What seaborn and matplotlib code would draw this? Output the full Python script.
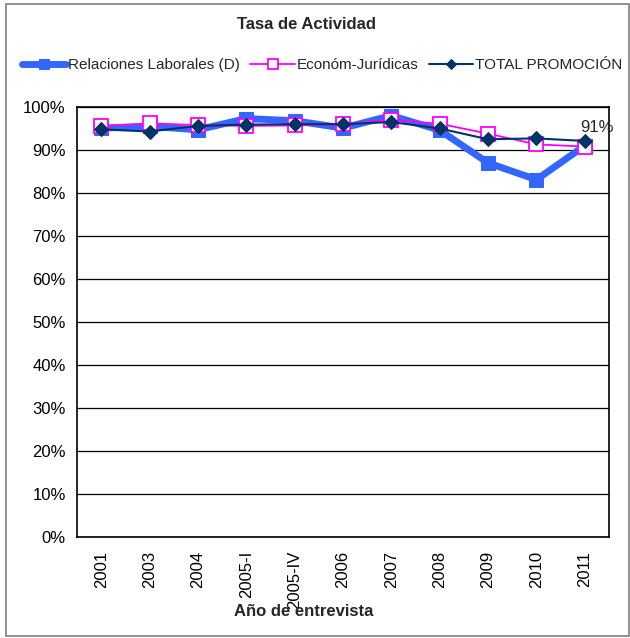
import pandas as pd
import numpy as np
import matplotlib.pyplot as plt
import seaborn as sns
from matplotlib.patches import Rectangle

# Data
years = ["2001", "2003", "2004", "2005-I", "2005-IV", "2006", "2007", "2008", "2009", "2010", "2011"]
relaciones = [0.951, 0.955, 0.947, 0.973, 0.968, 0.951, 0.980, 0.946, 0.870, 0.831, 0.910]
economicas = [0.955, 0.962, 0.958, 0.956, 0.957, 0.960, 0.970, 0.961, 0.938, 0.913, 0.908]
total = [0.948, 0.943, 0.956, 0.959, 0.960, 0.960, 0.965, 0.950, 0.925, 0.927, 0.921]

series_names = ["Relaciones Laborales (D)", "Económ-Jurídicas", "TOTAL PROMOCIÓN"]


def build_frame():
    return pd.DataFrame({
        "year": years,
        series_names[0]: relaciones,
        series_names[1]: economicas,
        series_names[2]: total,
    })


def plot_chart(df):
    sns.set_style("white")
    plt.rcParams["font.family"] = ["Liberation Sans", "DejaVu Sans"]

    fig = plt.figure(figsize=(6.3, 6.38), dpi=100)
    ax = fig.add_axes([0.1222, 0.1583, 0.8444, 0.674])

    sns.lineplot(data=df, x="year", y=series_names[0], ax=ax, color="#3366FF",
                 linewidth=5, marker="s", markersize=10, markeredgecolor="#3366FF",
                 label=series_names[0], sort=False)
    sns.lineplot(data=df, x="year", y=series_names[1], ax=ax, color="#FF00FF",
                 linewidth=1.3, marker="s", markersize=9.5, markerfacecolor="white",
                 markeredgecolor="#FF00FF", markeredgewidth=1.3,
                 label=series_names[1], sort=False)
    sns.lineplot(data=df, x="year", y=series_names[2], ax=ax, color="#003366",
                 linewidth=1.5, marker="D", markersize=7, markeredgecolor="#003366",
                 label=series_names[2], sort=False)

    # label on the last point of the first series
    ax.annotate(f"{relaciones[-1]:.0%}", (years[-1], relaciones[-1]),
                xytext=(9, 8), textcoords="offset points", ha="center",
                va="bottom", fontsize=12)

    ax.set_ylim(0, 1)
    ax.set_xlim(-0.5, len(years) - 0.5)
    ax.set_yticks(np.arange(0, 1.01, 0.1))
    ax.set_yticklabels([f"{int(round(v * 100))}%" for v in np.arange(0, 1.01, 0.1)])
    ax.yaxis.grid(True, color="black", linewidth=0.9)
    ax.xaxis.grid(False)
    ax.set_axisbelow(True)
    for s in ax.spines.values():
        s.set_color("black")
        s.set_linewidth(1.2)
    ax.tick_params(axis="both", length=0, labelsize=12, colors="black", pad=8)
    ax.tick_params(axis="x", rotation=90, pad=10)

    ax.set_xlabel("Año de entrevista", fontsize=12, fontweight="bold")
    ax.xaxis.set_label_coords(0.427, -0.174)
    ax.xaxis.label.set_va("center")
    ax.set_ylabel("")

    handles, labels = ax.get_legend_handles_labels()
    ax.get_legend().remove()
    fig.legend(handles, labels, loc="center", bbox_to_anchor=(0.511, 0.898), ncol=3,
               frameon=False, fontsize=11, handlelength=2.9, handletextpad=0.1,
               columnspacing=0.7, markerscale=0.75)

    fig.text(0.486, 0.961, "Tasa de Actividad", ha="center", va="center",
             fontsize=12, fontweight="bold")

    fig.patches.append(Rectangle((0.0095, 0.003), 0.989, 0.9906, transform=fig.transFigure,
                                 fill=False, edgecolor="#808080", linewidth=1.2))

    fig.savefig("out.png", dpi=100)


def main():
    df = build_frame()
    plot_chart(df)


if __name__ == "__main__":
    main()
